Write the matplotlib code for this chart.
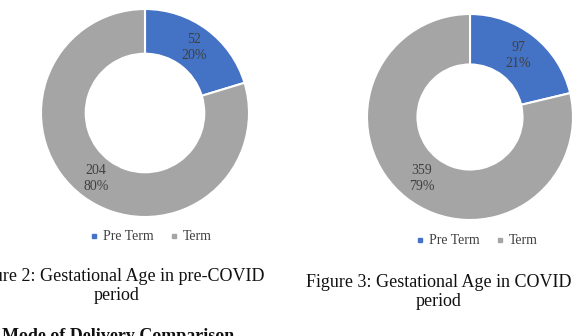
import matplotlib.pyplot as plt
from matplotlib.lines import Line2D

plt.rcParams['font.family'] = ['Liberation Serif', 'DejaVu Serif']

categories = ['Pre Term', 'Term']
pre_covid = [52, 204]
covid = [97, 359]
colors = ['#4472C4', '#A5A5A5']

W, H = 585, 336
fig = plt.figure(figsize=(W / 100, H / 100), dpi=100)


def donut(cx, cy, r, values, hole, pctdist):
    ax = fig.add_axes([(cx - r) / W, (H - cy - r) / H, 2 * r / W, 2 * r / H])
    total = sum(values)

    def lab(p):
        return f'{round(p * total / 100)}\n{p:.0f}%'

    ax.pie(values, colors=colors, startangle=90, counterclock=False,
           autopct=lab, pctdistance=pctdist, radius=1,
           wedgeprops=dict(width=1 - hole, edgecolor='white', linewidth=1.5),
           textprops=dict(fontsize=10, color='#404040', linespacing=1.3))
    ax.set_xlim(-1, 1)
    ax.set_ylim(-1, 1)
    ax.set_aspect('equal')
    ax.axis('off')
    return ax


donut(145, 113, 104, pre_covid, 0.57, 0.79)
donut(470, 117, 103, covid, 0.51, 0.76)

handles = [Line2D([], [], marker='s', linestyle='', color=c, markersize=3.5)
           for c in colors]
for x, y in [(151, 237), (477, 241)]:
    fig.legend(handles, categories, loc='center', bbox_to_anchor=(x / W, 1 - y / H),
               ncol=2, frameon=False, fontsize=10, handlelength=0.5,
               handletextpad=0.4, columnspacing=1.2, labelcolor='#404040')

fig.text(117 / W, 1 - 286 / H, 'Figure 2: Gestational Age in pre-COVID\nperiod',
         ha='center', va='center', fontsize=13, linespacing=1.1, color='#111111')
fig.text(439 / W, 1 - 292 / H, 'Figure 3: Gestational Age in COVID\nperiod',
         ha='center', va='center', fontsize=13, linespacing=1.1, color='#111111')
fig.text(2 / W, 1 - 328 / H, 'Mode of Delivery Comparison', ha='left', va='top',
         fontsize=13, fontweight='bold', color='#111111')

fig.savefig('out.png', dpi=100)
